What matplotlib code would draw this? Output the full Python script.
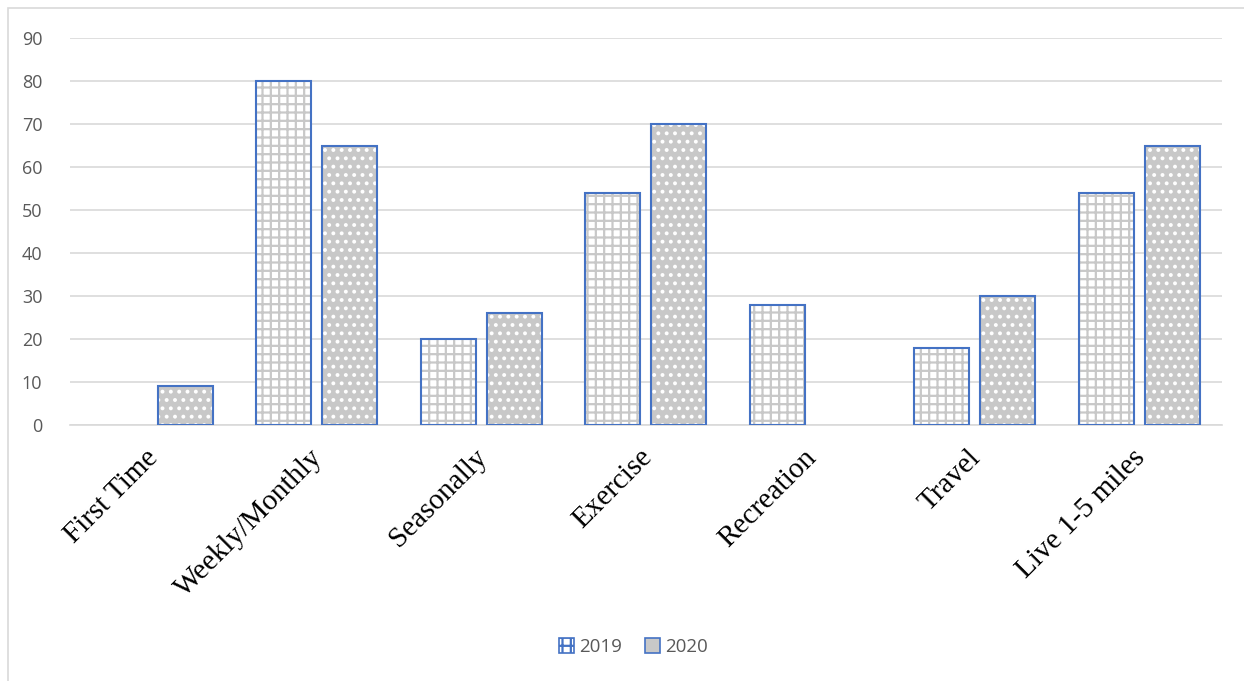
import matplotlib
matplotlib.use("Agg")
import matplotlib.pyplot as plt
import matplotlib.transforms as mtransforms
import numpy as np
from matplotlib.patches import Rectangle, Patch

categories = ["First Time", "Weekly/Monthly", "Seasonally", "Exercise",
              "Recreation", "Travel", "Live 1-5 miles"]
values_2019 = [0, 80, 20, 54, 28, 18, 54]
values_2020 = [9, 65, 26, 70, 0, 30, 65]
series_names = ["2019", "2020"]

blue = "#4472C4"
grid_grey = "#d9d9d9"
text_grey = "#595959"

plt.rcParams["hatch.linewidth"] = 1.6

fig = plt.figure(figsize=(12.44, 6.81), dpi=100)
ax = fig.add_axes([0.0563, 0.376, 0.9257, 0.568])

x = np.arange(len(categories))
w = 0.334
off = 0.2

# hatch layer first, outline on top
for vals, dx, face, hcol, hatch in [
        (values_2019, -off, "white", "#c8c8c8", "++"),
        (values_2020, off, "#c8c8c8", "white", "..")]:
    v = np.array(vals, dtype=float)
    mask = v > 0
    ax.bar(x[mask] + dx, v[mask], w, facecolor=face, edgecolor=hcol,
           hatch=hatch, linewidth=0, zorder=2)
    ax.bar(x[mask] + dx, v[mask], w, facecolor="none", edgecolor=blue,
           linewidth=1.5, zorder=3)

ax.set_xlim(-0.5, len(categories) - 0.5)
ax.set_ylim(0, 90)
ax.set_yticks(np.arange(0, 91, 10))
ax.yaxis.grid(True, color=grid_grey, linewidth=1.2, zorder=0)
ax.set_axisbelow(True)
for s in ["top", "right", "left"]:
    ax.spines[s].set_visible(False)
ax.spines["bottom"].set_color(grid_grey)
ax.spines["bottom"].set_linewidth(1.2)
ax.tick_params(axis="both", length=0)
ax.tick_params(axis="y", pad=20, labelcolor=text_grey, labelsize=13)
for lab in ax.get_yticklabels():
    lab.set_family("Open Sans")

ax.set_xticks(x)
ax.set_xticklabels(categories, rotation=45, ha="right", va="top",
                   rotation_mode="anchor", family="Liberation Serif",
                   fontsize=21, color="black")
ax.tick_params(axis="x", pad=14)
shift = mtransforms.ScaledTranslation(-0.07, 0, fig.dpi_scale_trans)
for lab in ax.get_xticklabels():
    lab.set_transform(lab.get_transform() + shift)

handles = [Patch(facecolor="white", edgecolor=blue, hatch="++", linewidth=1.2),
           Patch(facecolor="#c8c8c8", edgecolor=blue, linewidth=1.2)]
leg = fig.legend(handles, series_names, loc="center", bbox_to_anchor=(0.509, 0.05),
                 ncol=2, frameon=False, handlelength=0.8, handleheight=0.8,
                 handletextpad=0.3, columnspacing=1.2,
                 prop={"family": "Open Sans", "size": 13.5})
for t in leg.get_texts():
    t.set_color(text_grey)

fig.patches.append(Rectangle((8 / 1244, -0.1), 1.2, 1.1 - 8 / 681,
                             transform=fig.transFigure, fill=False,
                             edgecolor=grid_grey, linewidth=1.2))

fig.savefig("out.png", dpi=100)
